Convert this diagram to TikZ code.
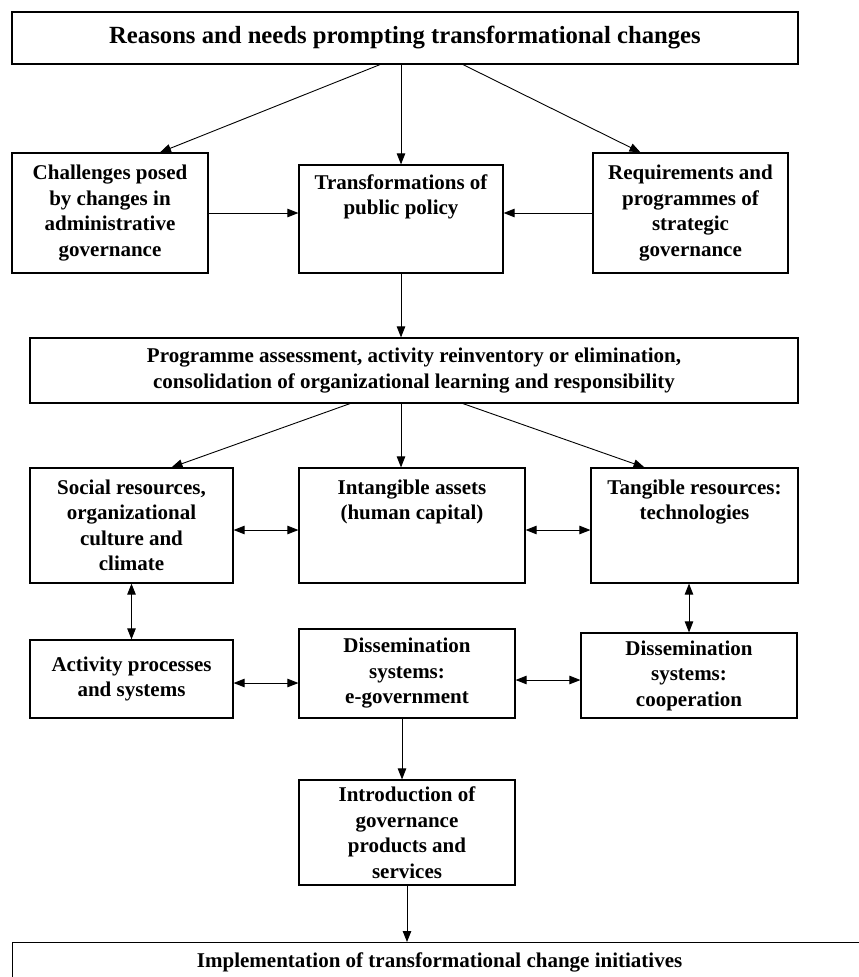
\documentclass[tikz,border=0pt]{standalone}
\usepackage{fontspec}
\setmainfont{Liberation Serif}
\usetikzlibrary{arrows.meta}
\begin{document}
\begin{tikzpicture}[x=1pt,y=-1pt]
    \tikzstyle{box}=[draw, line width=1.2pt, align=center, inner sep=0pt, font=\fontsize{21}{25.5}\selectfont\bfseries]
    \tikzstyle{toptext}=[anchor=north, inner sep=0pt, align=center, font=\fontsize{21}{25.5}\selectfont\bfseries]
    \tikzstyle{arr}=[-{Triangle[length=11pt,width=8.5pt]}, line width=0.9pt]
    \tikzstyle{dbl}=[{Triangle[length=11pt,width=8.5pt]}-{Triangle[length=11pt,width=8.5pt]}, line width=0.9pt]

    \useasboundingbox (0,0) rectangle (859,977);
    \clip (0,0) rectangle (859,977);

    \node[box, minimum width=786, minimum height=52, font=\fontsize{24.7}{28}\selectfont\bfseries] (reasons) at (405,38) {Reasons and needs prompting transformational changes};
    \node[box, minimum width=196, minimum height=120] (challenges) at (110,213) {Challenges posed\\by changes in\\administrative\\governance};
    \node[box, minimum width=204, minimum height=108, label={[toptext, yshift=-10pt]north:{Transformations of\\public policy}}] (policy) at (401,219) {};
    \node[box, minimum width=195, minimum height=120] (requirements) at (690.5,213) {Requirements and\\programmes of\\strategic\\governance};
    \node[box, minimum width=768, minimum height=65] (assessment) at (414,370.5) {Programme assessment, activity reinventory or elimination,\\consolidation of organizational learning and responsibility};
    \node[box, minimum width=203, minimum height=115] (social) at (131.5,525.5) {Social resources,\\organizational\\culture and\\climate};
    \node[box, minimum width=226, minimum height=115, label={[toptext, yshift=-12pt]north:{Intangible assets\\(human capital)}}] (intangible) at (412,525.5) {};
    \node[box, minimum width=207, minimum height=115, label={[toptext, yshift=-12pt]north:{Tangible resources:\\technologies}}] (tangible) at (694.5,525.5) {};
    \node[box, minimum width=203, minimum height=78] (processes) at (131.5,679) {Activity processes\\and systems};
    \node[box, minimum width=216, minimum height=89] (egov) at (407,673.5) {Dissemination\\systems:\\e-government};
    \node[box, minimum width=216, minimum height=85] (coop) at (689,675.5) {Dissemination\\systems:\\cooperation};
    \node[box, minimum width=216, minimum height=105] (products) at (407,832.5) {Introduction of\\governance\\products and\\services};
    \node[box, minimum width=870, minimum height=60, anchor=north west, label={[toptext, yshift=-11pt, xshift=-8pt]north:{Implementation of transformational change initiatives}}] (implementation) at (12,942) {};

    \draw[arr] ([xshift=-25pt]reasons.south) -- ([xshift=50pt]challenges.north);
    \draw[arr] (reasons.south -| policy) -- (policy.north);
    \draw[arr] ([xshift=58pt]reasons.south) -- ([xshift=-50pt]requirements.north);
    \draw[arr] (challenges.east) -- (challenges.east -| policy.west);
    \draw[arr] (requirements.west) -- (requirements.west -| policy.east);
    \draw[arr] (policy.south) -- (policy.south |- assessment.north);
    \draw[arr] ([xshift=-64pt]assessment.south) -- ([xshift=40pt]social.north);
    \draw[arr] (assessment.south -| policy) -- (intangible.north -| policy);
    \draw[arr] ([xshift=49pt]assessment.south) -- ([xshift=-50pt]tangible.north);
    \draw[dbl] ([yshift=-4.5pt]social.east) -- ([yshift=-4.5pt]intangible.west);
    \draw[dbl] ([yshift=-4.5pt]intangible.east) -- ([yshift=-4.5pt]tangible.west);
    \draw[dbl] (social.south) -- (processes.north);
    \draw[dbl] (tangible.south -| coop) -- (coop.north);
    \draw[dbl] ([yshift=-4pt]processes.east) -- ([yshift=-4pt]processes.east -| egov.west);
    \draw[dbl] ([yshift=-6.5pt]egov.east) -- ([yshift=-6.5pt]egov.east -| coop.west);
    \draw[arr] ([xshift=-5pt]egov.south) -- ([xshift=-5pt]products.north);
    \draw[arr] (products.south) -- (products.south |- implementation.north);
\end{tikzpicture}
\end{document}
